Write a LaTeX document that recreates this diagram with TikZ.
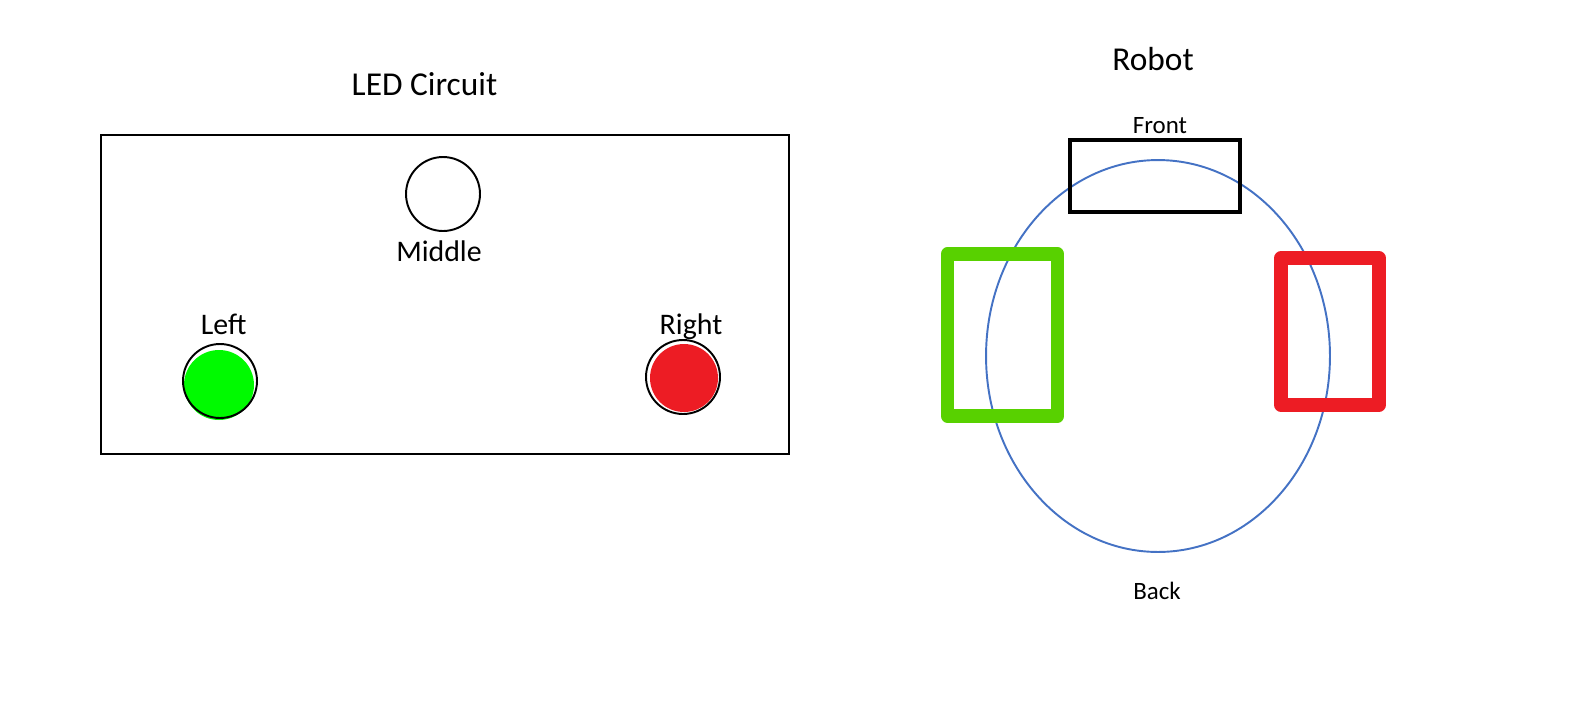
\documentclass[tikz,border=0pt]{standalone}
\usepackage{fontspec}
\setmainfont{Carlito}
\usetikzlibrary{shapes.geometric}
\definecolor{ledgreen}{RGB}{0,250,0}
\definecolor{ledred}{RGB}{237,28,36}
\definecolor{wheelgreen}{RGB}{88,209,0}
\definecolor{bodyblue}{RGB}{68,114,196}
\tikzset{%
  title/.style    = {anchor=base, font=\fontsize{19}{23}\selectfont},%
  ledname/.style  = {anchor=base, font=\fontsize{17}{20}\selectfont},%
  side/.style     = {anchor=base, font=\fontsize{14.2}{17}\selectfont},%
  led/.style      = {circle, draw, line width=1.1pt, inner sep=0pt, minimum size=1.48cm},%
  glow/.style     = {circle, inner sep=0pt},%
  wheel/.style    = {rectangle, draw, line width=7.7pt, line join=round, inner sep=0pt}%
}
\begin{document}
\begin{tikzpicture}[x=0.02cm, y=-0.02cm]
  \useasboundingbox (0,0) rectangle (1588,704);
  % LED circuit
  \node[title] (ledtitle) at (424.5,95) {LED Circuit};
  \node[draw, line width=1.1pt, minimum width=13.76cm, minimum height=6.38cm,
        inner sep=0pt] (board) at (445,294.5) {};
  \node[led] (middle) at (443,194) {};
  \node[ledname] (middlelabel) at (439,261.7) {Middle};
  \node[glow, fill=ledgreen, minimum size=1.4cm] (leftglow) at (219,385) {};
  \node[led] (left) at (220,381) {};
  \node[ledname] (leftlabel) at (223.7,334) {Left};
  \node[glow, fill=ledred, minimum size=1.36cm] (rightglow) at (684,378) {};
  \node[led] (right) at (683,377) {};
  \node[ledname] (rightlabel) at (691,334) {Right};
  % robot
  \node[title] (robottitle) at (1153,70) {Robot};
  \node[ellipse, draw=bodyblue, line width=1.1pt, inner sep=0pt,
        minimum width=6.88cm, minimum height=7.84cm] (body) at (1158,356) {};
  \node[draw, line width=2.3pt, inner sep=0pt,
        minimum width=3.41cm, minimum height=1.44cm] (front) at (1155,176) {};
  \node[side] (frontlabel) at (1160,133) {Front};
  \node[side] (backlabel) at (1157,599) {Back};
  \node[wheel, draw=wheelgreen, minimum width=2.2cm, minimum height=3.24cm]
        (leftwheel) at (1002.5,335) {};
  \node[wheel, draw=ledred, minimum width=1.96cm, minimum height=2.94cm]
        (rightwheel) at (1330,331.5) {};
\end{tikzpicture}
\end{document}
